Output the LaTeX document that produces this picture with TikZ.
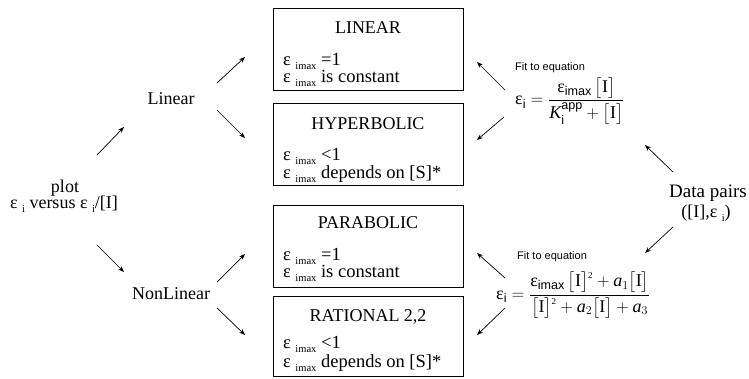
\documentclass[tikz,border=0pt]{standalone}
\usepackage{amsmath}
\usepackage{fontspec}
\setmainfont{Liberation Serif}
\newfontfamily\labelsans{Liberation Sans}
\usetikzlibrary{arrows.meta}
% epsilon with a lowered, smaller subscript as used in the boxes
\newcommand{\epsub}[1]{ε\hspace{4.5pt}\raisebox{-0.55ex}{\fontsize{10.5}{11}\selectfont #1}}
\newcommand{\brI}{\bigl[\text{I}\bigr]}
\newcommand{\sqI}{\bigl[\text{I}\bigr]^{\raisebox{-2pt}{\fontsize{9}{9}\selectfont 2}}}

\begin{document}
\begin{tikzpicture}[x=1pt,y=-1pt,
  modelbox/.style={draw, line width=1pt, minimum width=190pt, minimum height=82pt, inner sep=0pt},
  boxtitle/.style={anchor=base, font=\fontsize{18}{20}\selectfont, inner sep=0pt},
  boxline/.style={anchor=base west, font=\fontsize{18.5}{20}\selectfont, inner sep=0pt},
  lbl/.style={anchor=base, font=\fontsize{18}{20}\selectfont, inner sep=0pt},
  fitlbl/.style={anchor=base west, font=\labelsans\fontsize{11}{12}\selectfont, inner sep=0pt},
  eqn/.style={anchor=west, font=\fontsize{18}{20}\selectfont, inner sep=0pt},
  arr/.style={-{Stealth[length=6pt,width=4.5pt]}, line width=0.7pt}]
\useasboundingbox (0,0) rectangle (749,378);

% model boxes
\node[modelbox] (bLin) at (368,49) {};
\node[modelbox] (bHyp) at (368,144) {};
\node[modelbox] (bPar) at (368,246) {};
\node[modelbox, minimum height=80pt] (bRat) at (368,336.5) {};

\node[boxtitle] (tLin) at (368,33) {LINEAR};
\node[boxline] (lLinA) at (283,65) {\epsub{imax} =1};
\node[boxline] (lLinB) at (283,82) {\epsub{imax} is constant};

\node[boxtitle] (tHyp) at (368,129) {HYPERBOLIC};
\node[boxline] (lHypA) at (283,160) {\epsub{imax} <1};
\node[boxline] (lHypB) at (283,178) {\epsub{imax} depends on [S]*};

\node[boxtitle] (tPar) at (368,228) {PARABOLIC};
\node[boxline] (lParA) at (283,260) {\epsub{imax} =1};
\node[boxline] (lParB) at (283,277) {\epsub{imax} is constant};

\node[boxtitle] (tRat) at (368,321) {RATIONAL 2,2};
\node[boxline] (lRatA) at (283,348) {\epsub{imax} <1};
\node[boxline] (lRatB) at (283,367) {\epsub{imax} depends on [S]*};

% left-hand decision labels
\node[lbl] (plot) at (65,192) {plot};
\node[lbl] (plotB) at (64,208) {\epsub{i} versus \epsub{i}/[I]};
\node[lbl] (linear) at (171,104) {Linear};
\node[lbl] (nonlin) at (171,299) {NonLinear};

% right-hand data and equations
\node[lbl, font=\fontsize{19}{21}\selectfont] (data) at (708,197) {Data pairs};
\node[lbl] (dataB) at (706,217) {([I],\epsub{i})};

\node[fitlbl] (fitA) at (515,70) {Fit to equation};
\node[eqn] (eqA) at (515,101)
  {$\text{ε}_{\text{\labelsans i}} = \dfrac{\text{ε}_{\text{\labelsans imax}}\,\brI}{\textit{K}_{\text{\labelsans i}}^{\text{\labelsans app}} + \brI}$};

\node[fitlbl] (fitB) at (517,259) {Fit to equation};
\node[eqn] (eqB) at (496,295)
  {$\text{ε}_{\text{\labelsans i}} = \dfrac{\text{ε}_{\text{\labelsans imax}}\,\sqI + \textit{a}_{1}\brI}{\sqI + \textit{a}_{2}\brI + \textit{a}_{3}}$};

% arrow end points
\coordinate (p1s) at (97,155);  \coordinate (p1e) at (124,127);
\coordinate (p2s) at (97,245);  \coordinate (p2e) at (124,272);
\coordinate (l1s) at (217,83);  \coordinate (l1e) at (245,57);
\coordinate (l2s) at (217,110); \coordinate (l2e) at (245,138);
\coordinate (n1s) at (217,282); \coordinate (n1e) at (245,254);
\coordinate (n2s) at (217,308); \coordinate (n2e) at (245,335);
\coordinate (e1s) at (505,90);  \coordinate (e1e) at (477,62);
\coordinate (e2s) at (504,117); \coordinate (e2e) at (477,140);
\coordinate (e3s) at (505,278); \coordinate (e3e) at (477,253);
\coordinate (e4s) at (505,308); \coordinate (e4e) at (477,335);
\coordinate (d1s) at (673,172); \coordinate (d1e) at (645,145);
\coordinate (d2s) at (673,227); \coordinate (d2e) at (645,253);

\foreach \a in {p1,p2,l1,l2,n1,n2,e1,e2,e3,e4,d1,d2}
  \draw[arr] (\a s) -- (\a e);
\end{tikzpicture}
\end{document}
